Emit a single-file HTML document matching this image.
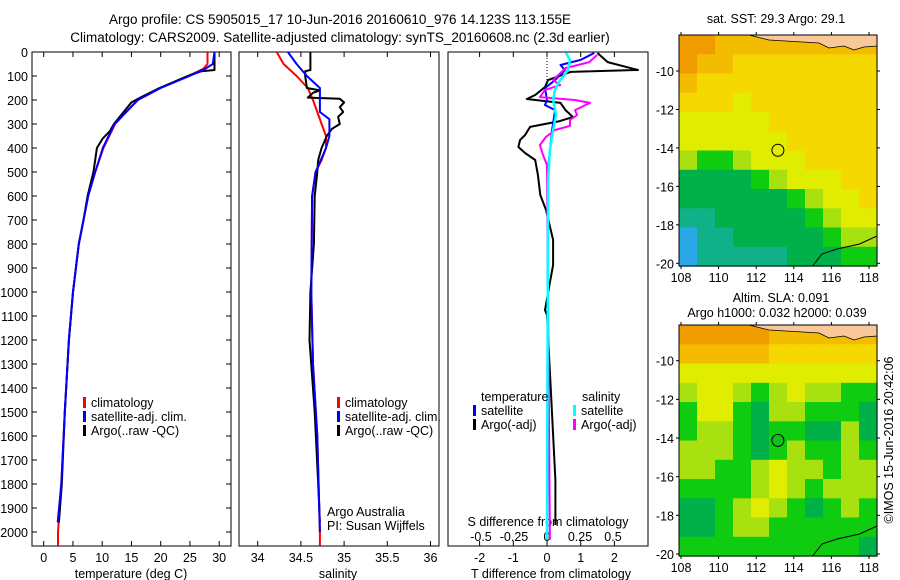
<!DOCTYPE html>
<html><head><meta charset="utf-8"><style>
body{margin:0;background:#fff}
svg{display:block;font-family:"Liberation Sans",sans-serif;font-size:12.5px}
</style></head><body>
<svg id="c" width="900" height="580" viewBox="0 0 900 580">
<text x="340" y="24" text-anchor="middle" font-size="13.5">Argo profile: CS 5905015_17 10-Jun-2016 20160610_976 14.123S 113.155E</text>
<text x="340" y="42" text-anchor="middle" font-size="13.5">Climatology: CARS2009. Satellite-adjusted climatology: synTS_20160608.nc (2.3d earlier)</text>
</svg>
<script>
// ---- data ----
const tClimD=[0,50,70,100,150,200,300,400,500,600,700,800,1000,1200,1500,1800,2000,2058];
const tClimV=[28,28,27.3,24.7,19.9,16,12.2,10.2,8.8,7.6,6.8,6.0,5.0,4.3,3.6,3.0,2.45,2.45];
const tSatD=[0,50,70,100,150,200,300,400,500,600,700,800,1000,1200,1500,1800,1960];
const tSatV=[29.2,28.9,27.6,24.9,20,16.1,12.1,10.1,8.8,7.6,6.8,6.0,5.0,4.3,3.6,3.0,2.4];
const tArgoD=[0,75,80,100,150,190,210,300,330,360,400,450,500,600,700,800,1000,1200,1500,1800,1960];
const tArgoV=[29.2,29.2,27,24.6,19.8,16.5,15,12.0,11.3,10.1,9.1,8.8,8.5,7.5,6.8,6.0,5.0,4.3,3.6,3.1,2.6];
const sClimD=[0,50,100,150,200,300,350,400,450,500,600,1000,1300,1600,2000,2058];
const sClimV=[34.22,34.3,34.45,34.58,34.64,34.74,34.79,34.79,34.74,34.67,34.63,34.62,34.64,34.69,34.72,34.72];
const sSatD=[0,50,100,150,170,250,280,350,400,500,600,1000,1300,1600,2000];
const sSatV=[34.35,34.45,34.57,34.72,34.72,34.72,34.83,34.83,34.79,34.67,34.63,34.62,34.64,34.69,34.72];
const sArgoD=[0,75,80,100,150,160,170,190,195,210,230,250,270,300,320,350,400,450,500,600,800,1000,1200,1500,1800,1960];
const sArgoV=[34.61,34.61,34.55,34.55,34.57,34.72,34.64,34.58,34.95,35.0,34.95,34.99,34.93,34.95,34.86,34.80,34.74,34.70,34.69,34.66,34.65,34.61,34.60,34.66,34.70,34.72];
const dTArgoD=[4,42,75,83,117,146,179,196,212,242,271,288,312,346,367,396,421,450,512,596,658,783,888,958,1075,1096,1783,1971];
const dTArgoV=[1.5,1.8,2.7,0.7,0.03,-0.06,-0.35,-0.6,0.4,0.55,0.77,0.38,-0.5,-0.65,-0.8,-0.85,-0.65,-0.35,-0.27,-0.2,-0.03,0.18,0.18,0.09,-0.06,0.0,0.25,0.25];
const dTSatD=[4,33,54,75,117,150,200,221,242,325,408,492,2033];
const dTSatV=[1.4,1.0,0.4,0.53,0.24,-0.06,0.0,-0.06,0.24,0.15,0.09,0.03,0.0];
const dSArgoD=[12,42,67,117,138,158,188,200,212,242,263,283,308,325,354,388,429,471,2033];
const dSArgoV=[0.38,0.32,0.14,0.046,0.1,-0.016,-0.054,0.212,0.326,0.212,0.228,0.174,0.174,0.06,-0.008,-0.054,-0.03,0.0,0.022];
const dSSatD=[4,33,75,117,158,200,263,325,408,533,2033];
const dSSatV=[0.144,0.174,0.16,0.1,0.06,0.046,0.068,0.046,0.022,0.008,0.0];
const depthTicks=[0,100,200,300,400,500,600,700,800,900,1000,1100,1200,1300,1400,1500,1600,1700,1800,1900,2000];
const tTicks=[0,5,10,15,20,25,30];
const sTicks=[34,34.5,35,35.5,36];
const dTTicks=[-2,-1,0,1,2];
const dSTicks=[-0.5,-0.25,0,0.25,0.5];
const latTicks=[-10,-12,-14,-16,-18,-20];
const lonTicks=[108,110,112,114,116,118];
const sstGrid=[
[8,8,7,7,7,7,7,7,7,7,7],[8,7,7,6,6,6,6,6,6,6,6],[7,6,6,6,6,6,6,6,6,6,6],[6,6,6,5,6,6,6,6,6,6,6],
[5,5,5,5,5,6,6,6,6,6,6],[5,5,5,5,5,5,6,6,6,6,6],[4,3,3,4,5,5,5,6,6,6,6],[2,2,2,2,3,4,5,5,5,6,6],
[2,2,2,2,2,2,3,4,5,5,6],[1,1,2,2,2,2,2,3,4,5,5],[0,1,1,2,2,2,2,2,3,4,4],[0,1,1,1,1,1,2,2,2,3,3]];
const slaGrid=[
[8,8,8,8,8,7,7,7,7,7,7],[7,7,7,7,7,6,6,6,6,6,6],[5,5,5,5,5,5,5,5,5,5,5],[4,5,5,4,3,4,5,4,4,3,3],
[3,5,5,3,2,4,4,3,3,3,2],[3,4,4,3,2,3,3,2,2,4,2],[4,4,4,3,2,3,4,3,3,4,3],[4,4,3,3,4,5,4,4,3,4,4],
[3,3,3,3,4,5,4,3,4,4,4],[2,2,3,4,5,4,3,2,3,4,3],[2,2,3,4,4,3,3,3,3,3,3],[3,3,3,3,3,3,3,3,3,3,2]];
const argoLon=113.155, argoLat=-14.123;
const cmap=['#2aa8e8','#10b088','#00b048','#10cc10','#a8e010','#e0ec00','#f4d800','#f4bc00','#f09c00','#e08000'];

const svg=document.getElementById('c');const NS='http://www.w3.org/2000/svg';
function mk(tag,attrs,name,parent){const e=document.createElementNS(NS,tag);for(const k in attrs)e.setAttribute(k,attrs[k]);


(parent||svg).appendChild(e);return e;}
function txt(x,y,s,name,anchor,extra){const t=mk('text',Object.assign({x:x,y:y,'text-anchor':anchor||'middle'},extra||{}),name);t.textContent=s;return t;}
const top0=52,bot=546;const yD=d=>top0+d*0.24;
function line(xs,ys,fx,color,w,name){let p='';for(let i=0;i<xs.length;i++){p+=(i?'L':'M')+fx(xs[i]).toFixed(1)+','+yD(ys[i]).toFixed(1);}
mk('path',{d:p,fill:'none',stroke:color,'stroke-width':w,'stroke-linejoin':'round'},name);}
function legend(x,y,items){items.forEach((it,i)=>{mk('rect',{x:x,y:y+i*14-10,width:3,height:11,fill:it[1]},'legend-swatch-'+it[2]);txt(x+8,y+i*14,it[0],'legend-entry-'+it[2],'start');});}

// panel 1 temperature
const xT=v=>43.7+v*5.85;
mk('rect',{x:32,y:top0,width:199,height:bot-top0,fill:'none',stroke:'#000','stroke-width':1},'temperature-panel-frame');
depthTicks.forEach(d=>{const y=yD(d);mk('line',{x1:32,y1:y,x2:37,y2:y,stroke:'#000'},'depth-tick');mk('line',{x1:226,y1:y,x2:231,y2:y,stroke:'#000'},'depth-tick');txt(28,y+5,d,'depth-tick-label','end');});
tTicks.forEach(v=>{const x=xT(v);mk('line',{x1:x,y1:top0,x2:x,y2:top0+5,stroke:'#000'},'temp-tick');mk('line',{x1:x,y1:bot,x2:x,y2:bot-5,stroke:'#000'},'temp-tick');txt(x,562,v,'temp-tick-label');});
txt(131,578,'temperature (deg C)','temperature-axis-title');
line(tClimV,tClimD,xT,'#f00',2,'temp-climatology-line');
line(tArgoV,tArgoD,xT,'#000',2,'temp-argo-line');
line(tSatV,tSatD,xT,'#00f',2,'temp-satellite-line');
legend(83,407,[['climatology','#f00','climatology'],['satellite-adj. clim.','#00f','satellite'],['Argo(..raw -QC)','#000','argo']]);

// panel 2 salinity
const xS=v=>257.7+(v-34)*86.4;
mk('rect',{x:239,y:top0,width:200,height:bot-top0,fill:'none',stroke:'#000'},'salinity-panel-frame');
sTicks.forEach(v=>{const x=xS(v);mk('line',{x1:x,y1:top0,x2:x,y2:top0+5,stroke:'#000'},'sal-tick');mk('line',{x1:x,y1:bot,x2:x,y2:bot-5,stroke:'#000'},'sal-tick');txt(x,562,v,'sal-tick-label');});
txt(338,578,'salinity','salinity-axis-title');
line(sClimV,sClimD,xS,'#f00',2,'sal-climatology-line');
line(sArgoV,sArgoD,xS,'#000',2,'sal-argo-line');
line(sSatV,sSatD,xS,'#00f',2,'sal-satellite-line');
legend(337,407,[['climatology','#f00','climatology-s'],['satellite-adj. clim.','#00f','satellite-s'],['Argo(..raw -QC)','#000','argo-s']]);
txt(327,516,'Argo Australia','credit-argo-australia','start');
txt(327,530,'PI: Susan Wijffels','credit-pi','start');

// panel 3 differences
const xdT=v=>547+v*33.7, xdS=v=>547+v*132;
mk('rect',{x:448,y:top0,width:200,height:bot-top0,fill:'none',stroke:'#000'},'difference-panel-frame');
mk('line',{x1:547,y1:top0,x2:547,y2:80,stroke:'#000','stroke-dasharray':'1,2'},'zero-dotted-line');
dTTicks.forEach(v=>{const x=xdT(v);mk('line',{x1:x,y1:top0,x2:x,y2:top0+5,stroke:'#000'},'dt-tick');mk('line',{x1:x,y1:bot,x2:x,y2:bot-5,stroke:'#000'},'dt-tick');txt(x,562,v,'dt-tick-label');});
dSTicks.forEach(v=>{txt(xdS(v),541,v,'ds-tick-label');});
txt(548,526,'S difference from climatology','s-diff-axis-title');
txt(551,578,'T difference from climatology','t-diff-axis-title');
line(dTArgoV,dTArgoD,xdT,'#000',2,'dt-argo-line');
line(dTSatV,dTSatD,xdT,'#00f',2,'dt-satellite-line');
line(dSArgoV,dSArgoD,xdS,'#f0f',2,'ds-argo-line');
line(dSSatV,dSSatD,xdS,'#0ff',2.5,'ds-satellite-line');
txt(481,401,'temperature','legend-temperature-heading','start');
txt(582,401,'salinity','legend-salinity-heading','start');
legend(473,415,[['satellite','#00f','dt-satellite'],['Argo(-adj)','#000','dt-argo']]);
legend(573,415,[['satellite','#0ff','ds-satellite'],['Argo(-adj)','#f0f','ds-argo']]);

// maps
function drawMap(x0,y0,x1,y1,yLm10,yLm20,grid,name,markerFill){
 const lx=v=>681+(v-108)*18.8, ly=v=>yLm10+(v+10)*(yLm20-yLm10)/-10;
 const rows=grid.length, cols=grid[0].length;
 const cw=(x1-x0)/cols, ch=(y1-y0)/rows;
 grid.forEach((r,i)=>r.forEach((v,j)=>{mk('rect',{x:(x0+j*cw).toFixed(1),y:(y0+i*ch).toFixed(1),width:(cw+0.6).toFixed(1),height:(ch+0.6).toFixed(1),fill:cmap[v]},name+'-cell');}));
 mk('path',{d:`M${x0+70},${y0} L${x0+90},${y0+5} L${x0+140},${y0+8} L${x0+150},${y0+13} L${x0+165},${y0+11} L${x0+175},${y0+15} L${x0+185},${y0+12} L${x1},${y0+11} L${x1},${y0} Z`,fill:'#f8c898',stroke:'#000','stroke-width':0.8},name+'-land');
 mk('path',{d:`M${lx(115)},${y1} L${lx(115.5)},${y1-12} L${lx(116.3)},${y1-17} L${lx(117.5)},${y1-22} L${x1},${y1-30}`,fill:'none',stroke:'#000','stroke-width':1},name+'-coastline');
 mk('rect',{x:x0,y:y0,width:x1-x0,height:y1-y0,fill:'none',stroke:'#000'},name+'-frame');
 latTicks.forEach(v=>{const y=ly(v);mk('line',{x1:x0-3,y1:y,x2:x0,y2:y,stroke:'#000'},name+'-lat-tick');mk('line',{x1:x1,y1:y,x2:x1+3,y2:y,stroke:'#000'},name+'-lat-tick');txt(x0-5,y+5,v,name+'-lat-label','end');});
 lonTicks.forEach(v=>{const x=lx(v);mk('line',{x1:x,y1:y0-3,x2:x,y2:y0,stroke:'#000'},name+'-lon-tick');mk('line',{x1:x,y1:y1,x2:x,y2:y1+3,stroke:'#000'},name+'-lon-tick');txt(x,y1+16,v,name+'-lon-label');});
 mk('circle',{cx:lx(argoLon),cy:ly(argoLat),r:6,fill:markerFill,stroke:'#000'},name+'-argo-marker');
}
txt(776,23,'sat. SST: 29.3 Argo: 29.1','sst-map-title');
drawMap(679,35,877,266,71,263.3,sstGrid,'sst-map','none');
txt(781,302,'Altim. SLA: 0.091','sla-map-title');
txt(777,317,'Argo h1000: 0.032 h2000: 0.039','sla-map-subtitle');
drawMap(679,325,877,556,360.7,554,slaGrid,'sla-map','#10c020');
txt(0,0,'©IMOS 15-Jun-2016 20:42:06','imos-timestamp','middle',{transform:'translate(893,440) rotate(-90)'});
</script>
</body></html>
